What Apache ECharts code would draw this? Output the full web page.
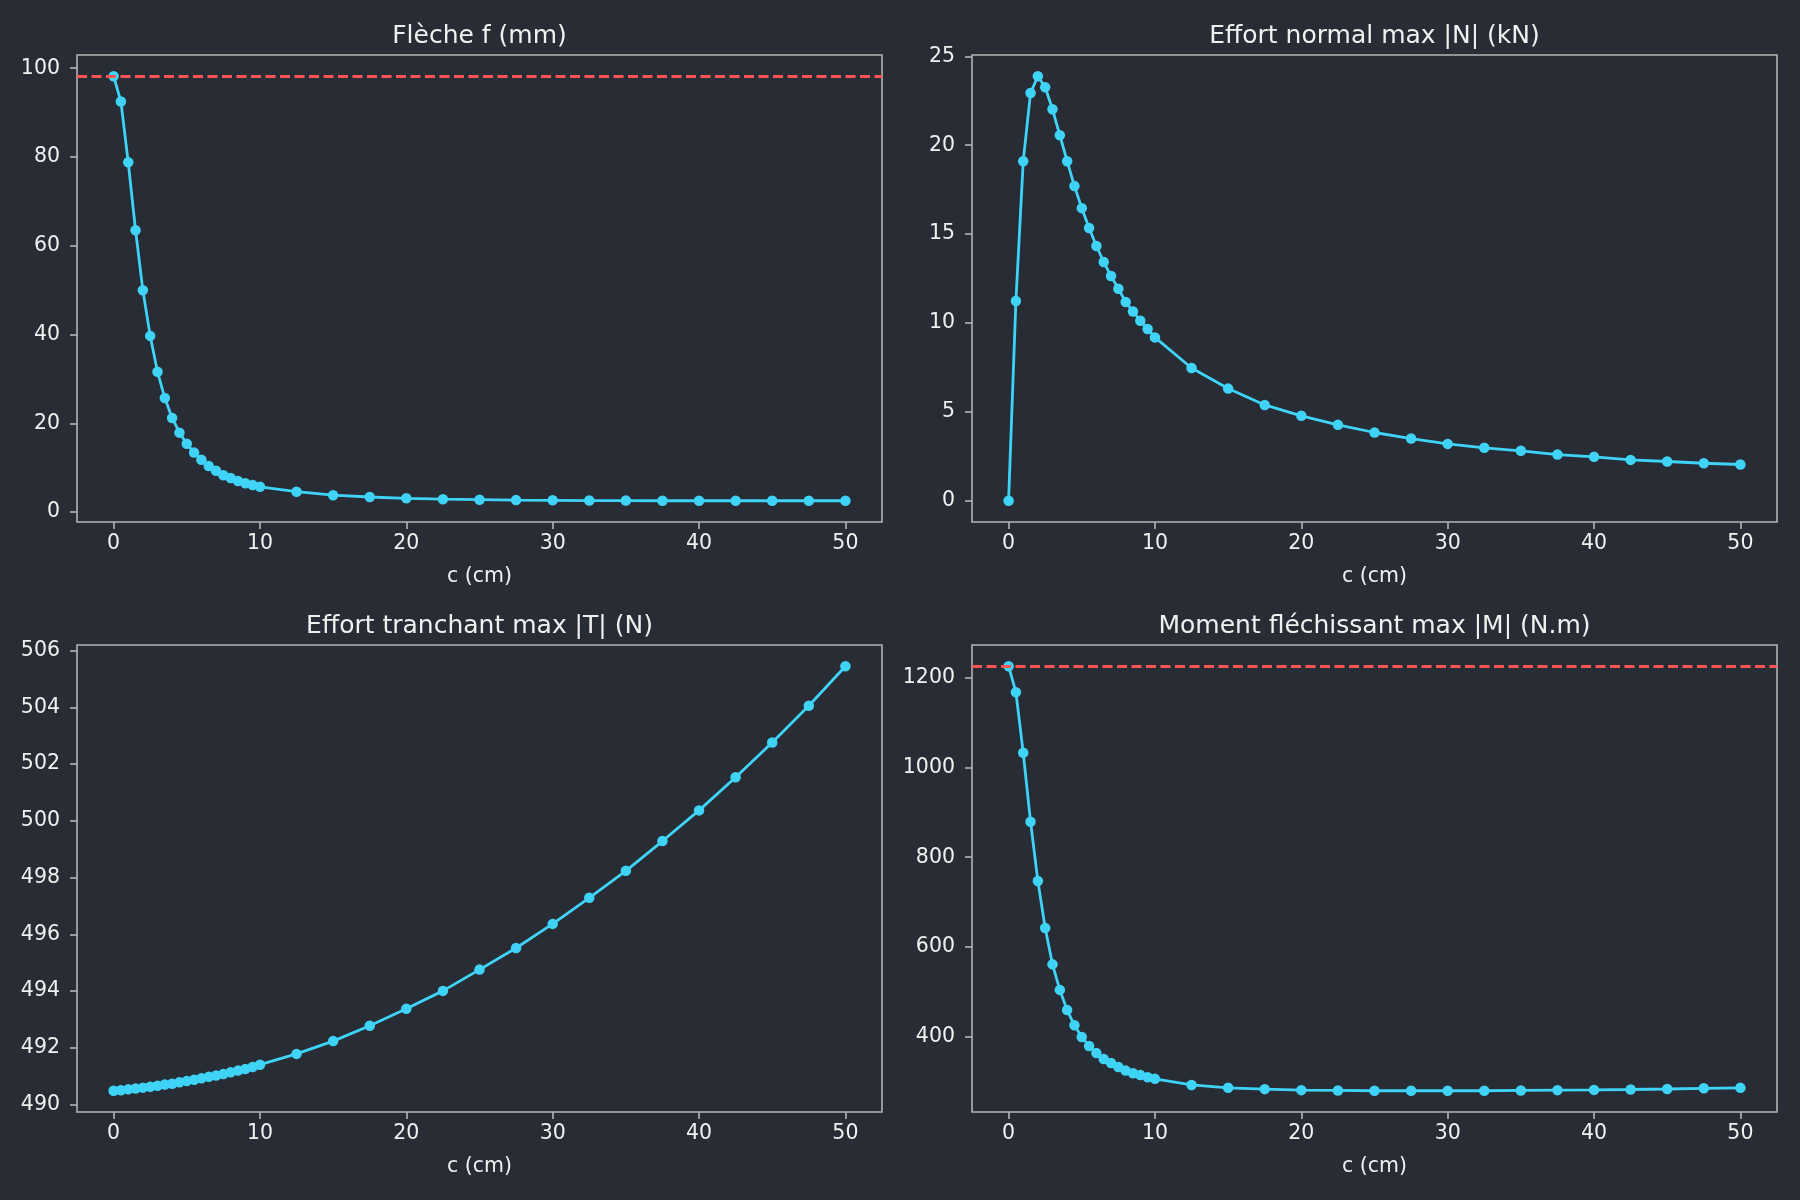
<!DOCTYPE html>
<html>
<head>
<meta charset="utf-8">
<title>Poutre sur appuis</title>
<script src="https://cdn.jsdelivr.net/npm/echarts@6/dist/echarts.min.js"></script>
<style>
  html, body { margin: 0; padding: 0; background: #282c34; }
  #container { width: 1800px; height: 1200px; }
</style>
</head>
<body>
<div id="container"></div>
<script>
// espacement c (cm)
var c = [0, 0.5, 1, 1.5, 2, 2.5, 3, 3.5, 4, 4.5, 5, 5.5, 6, 6.5, 7, 7.5, 8, 8.5, 9, 9.5, 10,
         12.5, 15, 17.5, 20, 22.5, 25, 27.5, 30, 32.5, 35, 37.5, 40, 42.5, 45, 47.5, 50];

// valeurs
var fleche = [98.2, 92.5, 78.8, 63.5, 50.0, 39.7, 31.6, 25.7, 21.2, 17.9, 15.4, 13.4, 11.8, 10.4, 9.3, 8.3, 7.7, 7.0, 6.5, 6.1, 5.7,
              4.6, 3.8, 3.4, 3.1, 2.9, 2.8, 2.7, 2.65, 2.6, 2.6, 2.55, 2.55, 2.55, 2.55, 2.55, 2.55];
var normal = [0, 11.24, 19.1, 22.94, 23.88, 23.26, 22.02, 20.56, 19.1, 17.7, 16.46, 15.34, 14.33, 13.43, 12.64, 11.93, 11.18, 10.65, 10.13, 9.66, 9.19,
              7.47, 6.31, 5.39, 4.78, 4.27, 3.84, 3.5, 3.2, 2.98, 2.81, 2.6, 2.47, 2.3, 2.21, 2.11, 2.04];
var tranchant = [490.49, 490.51, 490.54, 490.57, 490.60, 490.63, 490.67, 490.71, 490.74, 490.79, 490.83, 490.88, 490.93, 490.98, 491.03, 491.08, 491.14, 491.20, 491.26, 491.33, 491.41,
                 491.79, 492.24, 492.78, 493.38, 494.01, 494.76, 495.52, 496.37, 497.29, 498.24, 499.29, 500.37, 501.54, 502.76, 504.06, 505.45];
var moment = [1226, 1168, 1033, 879, 747, 642, 561, 504, 459, 425, 399, 379, 363, 350, 341, 332, 324, 318, 314, 309, 305.6,
              292, 285.6, 282.6, 280.4, 279.7, 279, 279, 279, 279, 279.7, 280.4, 281, 281.8, 283, 284.5, 285.5];

// lignes de reference (cas sans appui)
var flecheRef = 98.2;
var momentRef = 1226;

var titres = ['Flèche f (mm)', 'Effort normal max |N| (kN)', 'Effort tranchant max |T| (N)', 'Moment fléchissant max |M| (N.m)'];
var xTicks = [0, 10, 20, 30, 40, 50];
var yTicks = [
  [0, 20, 40, 60, 80, 100],
  [0, 5, 10, 15, 20, 25],
  [490, 492, 494, 496, 498, 500, 502, 504, 506],
  [400, 600, 800, 1000, 1200]
];
var series_y = [fleche, normal, tranchant, moment];
var refs = [flecheRef, null, null, momentRef];

var dom = document.getElementById('container');
var myChart = echarts.init(dom, null, { renderer: 'canvas' });

var FONT = 'DejaVu Sans';
var TXT = '#f0f0f0';
var SPINE = '#b4b4b4';
var CYAN = '#3fd4f7';
var RED = '#ff5252';

function marges(arr) {
  var lo = Math.min.apply(null, arr), hi = Math.max.apply(null, arr);
  var d = (hi - lo) * 0.05;
  return [lo - d, hi + d];
}
function brut(v) { return String(v); }

var lefts = [77, 972], tops = [55, 645];
var W = 805, H = 467;

var grids = [], xAxes = [], yAxes = [], series = [], graphics = [];
var xr = marges(c);
for (var i = 0; i < 4; i++) {
  var gl = lefts[i % 2], gt = tops[Math.floor(i / 2)];
  grids.push({ left: gl, top: gt, width: W, height: H, show: true, borderColor: SPINE, borderWidth: 1.6, backgroundColor: 'transparent' });
  xAxes.push({
    type: 'value', gridIndex: i, min: xr[0], max: xr[1],
    name: 'c (cm)', nameLocation: 'middle', nameGap: 44,
    nameTextStyle: { color: TXT, fontSize: 20.5, fontFamily: FONT },
    axisLine: { show: false, onZero: false },
    axisTick: { show: true, length: 7, lineStyle: { color: SPINE, width: 1.6 }, customValues: xTicks },
    axisLabel: { color: TXT, fontSize: 20.5, fontFamily: FONT, margin: 11, customValues: xTicks, formatter: brut },
    splitLine: { show: false }
  });
  var yr = marges(series_y[i]);
  yAxes.push({
    type: 'value', gridIndex: i, min: yr[0], max: yr[1],
    axisLine: { show: false, onZero: false },
    axisTick: { show: true, length: 7, lineStyle: { color: SPINE, width: 1.6 }, customValues: yTicks[i] },
    axisLabel: { color: TXT, fontSize: 20.5, fontFamily: FONT, margin: 17, customValues: yTicks[i], formatter: brut },
    splitLine: { show: false }
  });
  var pts = c.map(function (x, k) { return [x, series_y[i][k]]; });
  var s = {
    type: 'line', xAxisIndex: i, yAxisIndex: i, data: pts,
    symbol: 'circle', symbolSize: 10.5, showAllSymbol: true,
    lineStyle: { color: CYAN, width: 2.8 },
    itemStyle: { color: CYAN },
    z: 3
  };
  if (refs[i] !== null) {
    s.markLine = {
      silent: true, symbol: ['none', 'none'], label: { show: false },
      lineStyle: { color: RED, type: [10, 4.5], width: 2.8, opacity: 1 },
      data: [{ yAxis: refs[i] }],
      z: 4
    };
  }
  series.push(s);
  graphics.push({
    type: 'text', x: gl + W / 2, y: gt - 19,
    style: { text: titres[i], fill: TXT, font: '25px "' + FONT + '"', textAlign: 'center', textVerticalAlign: 'middle' }
  });
}

option = {
  backgroundColor: '#282c34',
  animation: false,
  grid: grids,
  xAxis: xAxes,
  yAxis: yAxes,
  series: series,
  graphic: graphics
};

if (option && typeof option === 'object') {
  myChart.setOption(option, true);
}
</script>
</body>
</html>
